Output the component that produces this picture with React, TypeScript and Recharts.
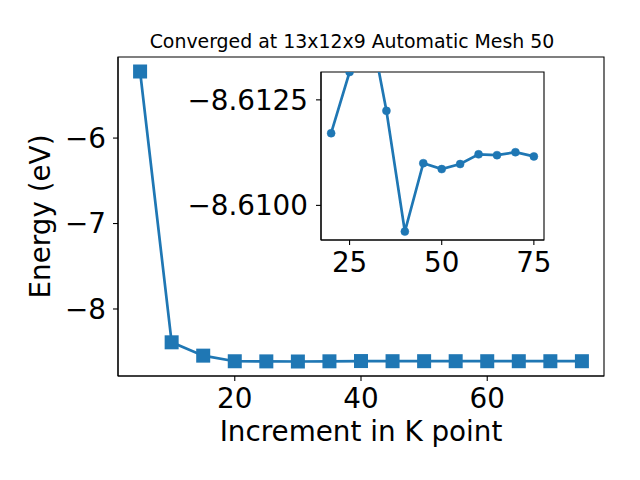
import { LineChart, Line, XAxis, YAxis, ReferenceArea } from 'recharts';

// k-point convergence: total energy vs mesh increment
const kPoints = [5, 10, 15, 20, 25, 30, 35, 40, 45, 50, 55, 60, 65, 70, 75];
const energies = [
  -5.221, -8.39, -8.546, -8.61171, -8.61316, -8.61453, -8.61224, -8.60938,
  -8.611, -8.61086, -8.61098, -8.61121, -8.61119, -8.61126, -8.61116,
];
const mainXTicks = [20, 40, 60];
const mainYTicks = [-8, -7, -6];
const insetFrom = 20;
const insetXTicks = [25, 50, 75];
const insetYTicks = [-8.6125, -8.61];
const insetYLimits = [-8.61316, -8.60918];

const titleText = 'Converged at 13x12x9 Automatic Mesh 50';
const xLabel = 'Increment in K point';
const yLabel = 'Energy (eV)';

const blue = '#1f77b4';
const font = 'DejaVu Sans';
const tickStyle = { fontSize: 27.8, fill: '#000', fontFamily: font };
const spine = { stroke: '#000', strokeWidth: 1.1 };

const mainData = kPoints.map((k, i) => ({ k, e: energies[i] }));
const insetData = mainData.filter((d) => d.k >= insetFrom);

// matplotlib-style 5% autoscale margins
const padded = (vals: number[]): [number, number] => {
  const lo = Math.min(...vals);
  const hi = Math.max(...vals);
  const p = (hi - lo) * 0.05;
  return [lo - p, hi + p];
};

const fmt = (v: number, d: number) => (v < 0 ? '\u2212' : '') + Math.abs(v).toFixed(d);

function SquareDot(props: any) {
  const { cx, cy } = props;
  if (cx == null || cy == null) return null;
  return <rect x={cx - 7} y={cy - 7} width={14} height={14} fill={blue} />;
}

export default function App() {
  const mainX = padded(kPoints);
  const mainY = padded(energies);
  const insetX = padded(insetData.map((d) => d.k));

  return (
    <div style={{ position: 'absolute', left: 0, top: 0, width: 640, height: 480, background: '#fff' }}>
      <div style={{ position: 'absolute', left: 0, top: 0 }}>
        <LineChart width={640} height={480} data={mainData} margin={{ top: 57, right: 36, bottom: 0, left: 0 }}>
          <XAxis
            dataKey="k"
            type="number"
            domain={mainX}
            ticks={mainXTicks}
            height={104}
            tickSize={5}
            tickMargin={7}
            tick={tickStyle}
            axisLine={spine}
            tickLine={spine}
            label={(p: any) => (
              <text x={p.viewBox.x + p.viewBox.width / 2} y={441} textAnchor="middle" fontSize={27.8} fontFamily={font} fill="#000">
                {xLabel}
              </text>
            )}
          />
          <YAxis
            type="number"
            domain={mainY}
            ticks={mainYTicks}
            width={118}
            tickSize={5}
            tickMargin={7}
            tick={tickStyle}
            tickFormatter={(v: number) => fmt(v, 0)}
            axisLine={spine}
            tickLine={spine}
            label={(p: any) => {
              const x = 50;
              const y = p.viewBox.y + p.viewBox.height / 2;
              return (
                <text x={x} y={y} transform={`rotate(-90, ${x}, ${y})`} textAnchor="middle" fontSize={27.8} fontFamily={font} fill="#000">
                  {yLabel}
                </text>
              );
            }}
          />
          {/* axes frame + title */}
          <ReferenceArea
            x1={mainX[0]}
            x2={mainX[1]}
            y1={mainY[0]}
            y2={mainY[1]}
            ifOverflow="visible"
            fill="none"
            stroke="#000"
            strokeWidth={1.1}
            label={(p: any) => (
              <text x={p.viewBox.x + p.viewBox.width / 2 - 9} y={48.3} textAnchor="middle" fontSize={18.9} fontFamily={font} fill="#000">
                {titleText}
              </text>
            )}
          />
          <Line
            dataKey="e"
            stroke={blue}
            strokeWidth={2.7}
            dot={<SquareDot />}
            activeDot={false}
            isAnimationActive={false}
          />
        </LineChart>
      </div>

      <div style={{ position: 'absolute', left: 180, top: 60 }}>
        <LineChart width={380} height={230} data={insetData} margin={{ top: 12, right: 16, bottom: 0, left: 0 }}>
          <XAxis
            dataKey="k"
            type="number"
            domain={insetX}
            ticks={insetXTicks}
            height={50}
            tickSize={5}
            tickMargin={7}
            tick={tickStyle}
            axisLine={spine}
            tickLine={spine}
          />
          <YAxis
            type="number"
            domain={insetYLimits}
            allowDataOverflow
            reversed
            ticks={insetYTicks}
            width={141}
            tickSize={5}
            tickMargin={8}
            tick={tickStyle}
            tickFormatter={(v: number) => fmt(v, 4)}
            axisLine={spine}
            tickLine={spine}
          />
          <ReferenceArea
            x1={insetX[0]}
            x2={insetX[1]}
            y1={insetYLimits[0]}
            y2={insetYLimits[1]}
            ifOverflow="visible"
            fill="none"
            stroke="#000"
            strokeWidth={1.1}
          />
          <Line
            dataKey="e"
            stroke={blue}
            strokeWidth={2.7}
            dot={{ r: 4, fill: blue, stroke: blue, strokeWidth: 0.5 }}
            activeDot={false}
            isAnimationActive={false}
          />
        </LineChart>
      </div>
    </div>
  );
}
